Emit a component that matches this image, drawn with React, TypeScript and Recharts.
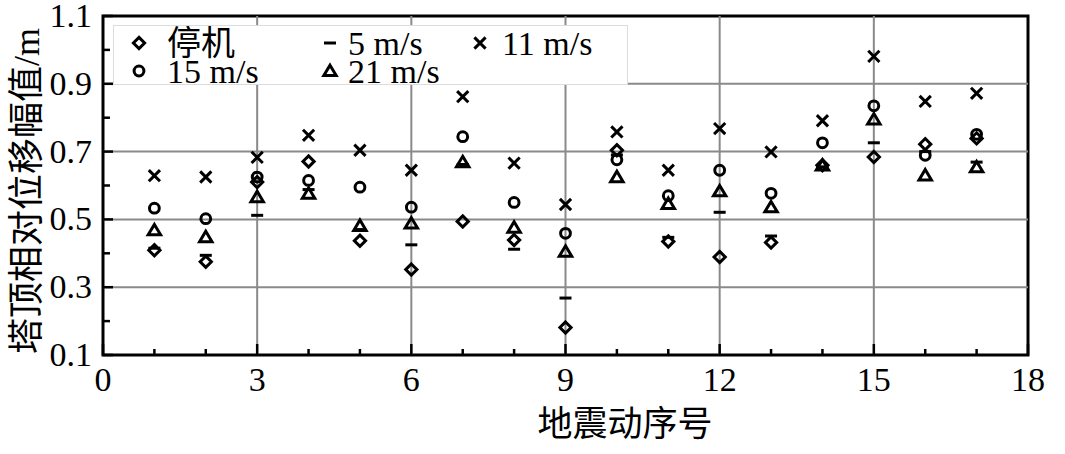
import React from 'react';
import { ScatterChart, Scatter, XAxis, YAxis, ReferenceLine, ReferenceArea, Legend } from 'recharts';

// 地震动序号 1..17
const quakeIds = [1, 2, 3, 4, 5, 6, 7, 8, 9, 10, 11, 12, 13, 14, 15, 16, 17];

// 塔顶相对位移幅值 (m)
const parked = [0.409, 0.375, 0.61, 0.671, 0.437, 0.352, 0.494, 0.439, 0.181, 0.704, 0.435, 0.389, 0.432, 0.66, 0.684, 0.722, 0.739];
const wind5 = [0.415, 0.394, 0.512, 0.588, 0.47, 0.425, 0.662, 0.412, 0.268, 0.69, 0.447, 0.521, 0.451, 0.655, 0.726, 0.7, 0.669];
const wind11 = [0.629, 0.625, 0.683, 0.748, 0.704, 0.645, 0.862, 0.666, 0.544, 0.758, 0.645, 0.768, 0.699, 0.791, 0.981, 0.848, 0.872];
const wind15 = [0.533, 0.502, 0.625, 0.615, 0.595, 0.536, 0.744, 0.55, 0.459, 0.676, 0.57, 0.645, 0.577, 0.726, 0.835, 0.689, 0.751];
const wind21 = [0.468, 0.448, 0.566, 0.576, 0.481, 0.488, 0.669, 0.476, 0.405, 0.625, 0.546, 0.583, 0.536, 0.659, 0.795, 0.63, 0.654];

const seriesNames = ['停机', '5 m/s', '11 m/s', '15 m/s', '21 m/s'];

const xTicks = [0, 1, 2, 3, 4, 5, 6, 7, 8, 9, 10, 11, 12, 13, 14, 15, 16, 17, 18];
const yTicks = [0.1, 0.2, 0.3, 0.4, 0.5, 0.6, 0.7, 0.8, 0.9, 1.0, 1.1];
const xGrid = [3, 6, 9, 12, 15];
const yGrid = [0.3, 0.5, 0.7, 0.9];

const toPoints = (vals: number[]) => quakeIds.map((id, i) => ({ x: id, y: vals[i] }));

const FONT = "'Liberation Serif', 'Times New Roman', 'Noto Sans CJK SC', serif";
const SW = 3;

type Kind = 'diamond' | 'dash' | 'cross' | 'circle' | 'triangle';
const kinds: Kind[] = ['diamond', 'dash', 'cross', 'circle', 'triangle'];

const Marker = ({ kind, cx, cy }: { kind: Kind; cx: number; cy: number }) => {
  const common = { fill: 'none', stroke: '#000', strokeWidth: SW };
  if (kind === 'diamond') {
    return <path d={`M${cx},${cy - 5.6}L${cx + 5.6},${cy}L${cx},${cy + 5.6}L${cx - 5.6},${cy}Z`} {...common} />;
  }
  if (kind === 'circle') return <circle cx={cx} cy={cy} r={4.9} {...common} />;
  if (kind === 'triangle') {
    return <path d={`M${cx},${cy - 5.8}L${cx + 6.2},${cy + 4.6}L${cx - 6.2},${cy + 4.6}Z`} {...common} />;
  }
  if (kind === 'cross') {
    return <path d={`M${cx - 5.6},${cy - 5.6}L${cx + 5.6},${cy + 5.6}M${cx + 5.6},${cy - 5.6}L${cx - 5.6},${cy + 5.6}`} {...common} />;
  }
  return <line x1={cx - 6} y1={cy} x2={cx + 6} y2={cy} stroke="#000" strokeWidth={3} />;
};

const shapeOf = (kind: Kind) => (props: any) => <Marker kind={kind} cx={props.cx} cy={props.cy} />;

const XTick = (props: any) => {
  const { x, y, payload } = props;
  const v = payload.value;
  const major = v % 3 === 0;
  return (
    <g>
      <line x1={x} y1={y} x2={x} y2={y - (major ? 11 : 6)} stroke="#000" strokeWidth={2.5} />
      {major && (
        <text x={x} y={y + 36} textAnchor="middle" style={{ fontFamily: FONT, fontSize: 34 }} fill="#000">
          {v}
        </text>
      )}
    </g>
  );
};

const YTick = (props: any) => {
  const { x, y, payload } = props;
  const v = payload.value;
  const major = Math.round(v * 10) % 2 === 1;
  return (
    <g>
      <line x1={x} y1={y} x2={x + (major ? 10 : 7)} y2={y} stroke="#000" strokeWidth={2.5} />
      {major && (
        <text x={x - 11} y={y + 11} textAnchor="end" style={{ fontFamily: FONT, fontSize: 34 }} fill="#000">
          {v.toFixed(1)}
        </text>
      )}
    </g>
  );
};

// legend slots per series: [marker x, text x, row]
const legendSlots = [
  [26, 54, 0],
  [217, 235, 0],
  [367, 389, 0],
  [26, 54, 1],
  [217, 235, 1],
];

const LegendBox = (props: any) => {
  const items = props.payload || [];
  return (
    <svg width={515} height={60} style={{ display: 'block', overflow: 'visible' }}>
      <rect x={0.5} y={0.5} width={514} height={59} fill="#fff" stroke="#dcdcdc" strokeWidth={1} />
      {items.map((it: any) => {
        const idx = seriesNames.indexOf(it.value);
        if (idx < 0) return null;
        const [mx, tx, row] = legendSlots[idx];
        const cy = row === 0 ? 18 : 46;
        return (
          <g key={it.value}>
            <Marker kind={kinds[idx]} cx={mx} cy={cy} />
            <text x={tx} y={cy + 12} style={{ fontFamily: FONT, fontSize: 34 }} fill="#000">
              {it.value}
            </text>
          </g>
        );
      })}
    </svg>
  );
};

const YLabel = () => (
  <text
    x={39}
    y={191}
    transform="rotate(-90, 39, 191)"
    textAnchor="middle"
    style={{ fontFamily: FONT, fontSize: 36 }}
    fill="#000"
  >
    塔顶相对位移幅值/m
  </text>
);

const XLabel = () => (
  <text x={625} y={436} textAnchor="middle" style={{ fontFamily: FONT, fontSize: 35 }} fill="#000">
    地震动序号
  </text>
);

export default function App() {
  return (
    <div style={{ position: 'absolute', left: 0, top: 0, background: '#fff' }}>
      <ScatterChart width={1065} height={454} margin={{ top: 16, right: 37, bottom: 8, left: 8 }}>
        <XAxis
          type="number"
          dataKey="x"
          domain={[0, 18]}
          ticks={xTicks}
          interval={0}
          height={91}
          axisLine={false}
          tickLine={false}
          tickSize={0}
          tickMargin={0}
          tick={<XTick />}
          label={<XLabel />}
        />
        <YAxis
          type="number"
          dataKey="y"
          domain={[0.1, 1.1]}
          ticks={yTicks}
          interval={0}
          width={95}
          axisLine={false}
          tickLine={false}
          tickSize={0}
          tickMargin={0}
          tick={<YTick />}
          label={<YLabel />}
        />
        {xGrid.map((v) => (
          <ReferenceLine key={'x' + v} x={v} stroke="#8a8a8a" strokeWidth={2} />
        ))}
        {yGrid.map((v) => (
          <ReferenceLine key={'y' + v} y={v} stroke="#8a8a8a" strokeWidth={2} />
        ))}
        <ReferenceArea x1={0} x2={18} y1={0.1} y2={1.1} fill="none" fillOpacity={0} stroke="#000" strokeWidth={3} />
        <Legend
          layout="horizontal"
          verticalAlign="middle"
          align="center"
          content={<LegendBox />}
          wrapperStyle={{ left: 113, top: 25, width: 515, height: 60 }}
        />
        <Scatter name={seriesNames[0]} data={toPoints(parked)} shape={shapeOf('diamond')} isAnimationActive={false} />
        <Scatter name={seriesNames[1]} data={toPoints(wind5)} shape={shapeOf('dash')} isAnimationActive={false} />
        <Scatter name={seriesNames[2]} data={toPoints(wind11)} shape={shapeOf('cross')} isAnimationActive={false} />
        <Scatter name={seriesNames[3]} data={toPoints(wind15)} shape={shapeOf('circle')} isAnimationActive={false} />
        <Scatter name={seriesNames[4]} data={toPoints(wind21)} shape={shapeOf('triangle')} isAnimationActive={false} />
      </ScatterChart>
    </div>
  );
}
